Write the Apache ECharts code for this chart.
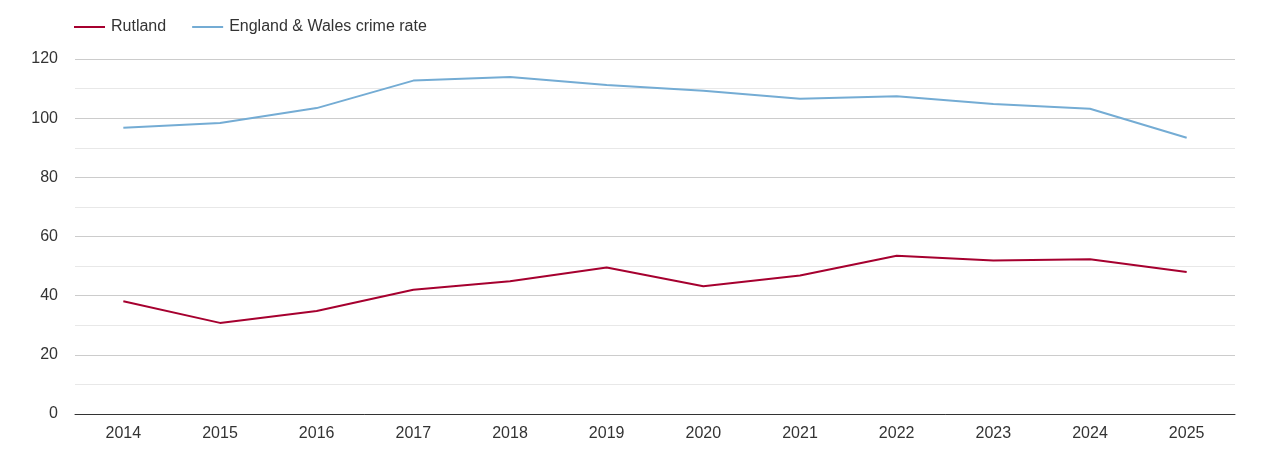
<!DOCTYPE html>
<html><head><meta charset="utf-8">
<script src="https://cdn.jsdelivr.net/npm/echarts@6/dist/echarts.min.js"></script>
<style>html,body{margin:0;padding:0;background:#fff}#c{width:1270px;height:450px}</style>
</head><body><div id="c"></div>
<script>
const years = ['2014','2015','2016','2017','2018','2019','2020','2021','2022','2023','2024','2025'];
const rutland = [38.1, 30.8, 34.8, 42.0, 44.9, 49.5, 43.2, 46.8, 53.5, 51.9, 52.3, 48.0];
const englandWales = [96.8, 98.4, 103.4, 112.7, 113.9, 111.2, 109.3, 106.6, 107.4, 104.8, 103.2, 93.4];
const seriesNames = ['Rutland', 'England & Wales crime rate'];
const colors = ['#a6002f', '#74acd4'];

const FONT = '"Liberation Sans", Arial, sans-serif';
const chart = echarts.init(document.getElementById('c'), null, {renderer: 'canvas'});
chart.setOption({
  animation: false,
  textStyle: {fontFamily: FONT},
  legend: {
    left: 69, top: 14,
    itemWidth: 31, itemHeight: 2, itemGap: 26,
    icon: 'rect',
    textStyle: {fontSize: 16, color: '#333', fontFamily: FONT, padding: [0, 0, 0, 1]},
    data: seriesNames
  },
  grid: {left: 75, right: 35, top: 59, bottom: 36, containLabel: false},
  xAxis: {
    type: 'category', data: years, boundaryGap: true,
    axisLine: {lineStyle: {color: '#333', width: 1}},
    axisTick: {show: false},
    axisLabel: {fontSize: 16, color: '#333', margin: 12}
  },
  yAxis: {
    type: 'value', min: 0, max: 120, interval: 20,
    axisLine: {show: false}, axisTick: {show: false},
    axisLabel: {fontSize: 16, color: '#333', margin: 17},
    splitLine: {lineStyle: {color: '#cccccc', width: 1}},
    minorTick: {show: false, splitNumber: 2},
    minorSplitLine: {show: true, lineStyle: {color: '#e8e8e8', width: 1}}
  },
  series: [
    {name: seriesNames[0], type: 'line', data: rutland, symbol: 'none', lineStyle: {color: colors[0], width: 2}, itemStyle: {color: colors[0]}},
    {name: seriesNames[1], type: 'line', data: englandWales, symbol: 'none', lineStyle: {color: colors[1], width: 2}, itemStyle: {color: colors[1]}}
  ]
});
</script></body></html>
